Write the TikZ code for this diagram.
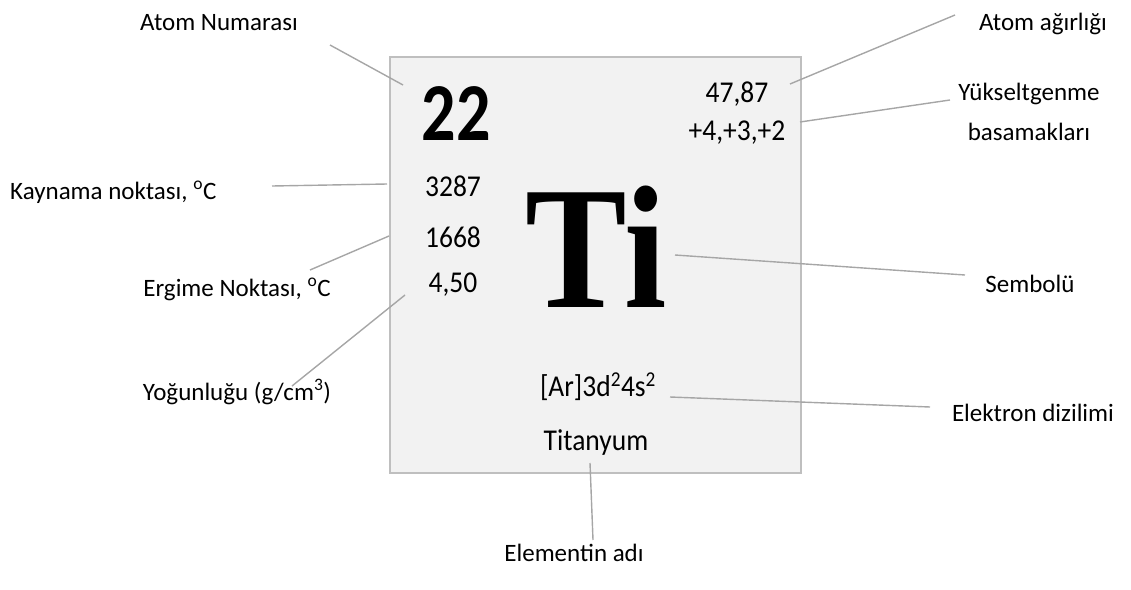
\documentclass[tikz,border=0pt]{standalone}
\usepackage{fontspec}
\setmainfont{Carlito}
\newfontfamily\symbolfont{Liberation Serif}
\usetikzlibrary{positioning,calc}
\usepackage{xcolor}
\definecolor{tilefill}{HTML}{F2F2F2}
\definecolor{tileline}{HTML}{BFBFBF}
\definecolor{leadline}{HTML}{A6A6A6}

\begin{document}
\begin{tikzpicture}[x=1pt,y=-1pt,
label/.style={
    inner sep=0pt,
    align=center,
    anchor=base,
    font=\fontsize{25}{40}\selectfont
},
value/.style={
    inner sep=0pt,
    anchor=base,
    yscale=1.1,
    transform shape,
    font=\fontsize{27.5}{30}\selectfont
},
leader/.style={draw=leadline, line width=1.4pt}
]
\useasboundingbox (0,0) rectangle (1131,589);

% element tile
\node[draw=tileline, fill=tilefill, line width=1.5pt, minimum width=411pt,
      minimum height=416pt] (tile) at (595.5,265) {};

\node[value, yscale=1.1, font=\bfseries\fontsize{68}{68}\selectfont] (numara) at (456,140) {22};
\node[value] (agirlik) at (737,102) {47,87};
\node[value] (basamak) at (737,140) {+4,+3,+2};
\node[value] (kaynama) at (453,196) {3287};
\node[value] (ergime) at (453,247) {1668};
\node[value] (yogunluk) at (453,292) {4,50};
\node[value, yscale=0.91, xscale=0.87, font=\symbolfont\bfseries\fontsize{175}{175}\selectfont] (sembol) at (596,307) {Ti};
\node[value] (dizilim) at (598,396) {[Ar]3d\textsuperscript{2}4s\textsuperscript{2}};
\node[value] (ad) at (596,450) {Titanyum};

% labels
\node[label] (l-numara) at (219,30) {Atom Numarası};
\node[label] (l-agirlik) at (1043,30) {Atom ağırlığı};
\node[label] (l-basamak) at (1029,140) {Yükseltgenme\\basamakları};
\node[label, anchor=base west] (l-kaynama) at (10,199) {Kaynama noktası, \textsuperscript{o}C};
\node[label] (l-ergime) at (237,296) {Ergime Noktası, \textsuperscript{o}C};
\node[label] (l-yogunluk) at (237,400) {Yoğunluğu (g/cm\textsuperscript{3})};
\node[label] (l-sembol) at (1030,292) {Sembolü};
\node[label] (l-dizilim) at (1033,421) {Elektron dizilimi};
\node[label] (l-ad) at (574,561) {Elementin adı};

% leader ends
\coordinate (numara-a) at (330,45);
\coordinate (numara-b) at (403,85);
\coordinate (agirlik-a) at (955,15);
\coordinate (agirlik-b) at (790,84);
\coordinate (basamak-a) at (950,100);
\coordinate (basamak-b) at (800,122);
\coordinate (kaynama-a) at (272,186);
\coordinate (kaynama-b) at (387,184);
\coordinate (ergime-a) at (310,270);
\coordinate (ergime-b) at (389,236);
\coordinate (yogunluk-a) at (292,386);
\coordinate (yogunluk-b) at (405,295);
\coordinate (sembol-a) at (965,275);
\coordinate (sembol-b) at (675,255);
\coordinate (dizilim-a) at (930,407);
\coordinate (dizilim-b) at (670,397);
\coordinate (ad-a) at (593,540);
\coordinate (ad-b) at (590,463);

% leaders
\draw[leader] (numara-a) -- (numara-b);
\draw[leader] (agirlik-a) -- (agirlik-b);
\draw[leader] (basamak-a) -- (basamak-b);
\draw[leader] (kaynama-a) -- (kaynama-b);
\draw[leader] (ergime-a) -- (ergime-b);
\draw[leader] (yogunluk-a) -- (yogunluk-b);
\draw[leader] (sembol-a) -- (sembol-b);
\draw[leader] (dizilim-a) -- (dizilim-b);
\draw[leader] (ad-a) -- (ad-b);

\end{tikzpicture}
\end{document}
